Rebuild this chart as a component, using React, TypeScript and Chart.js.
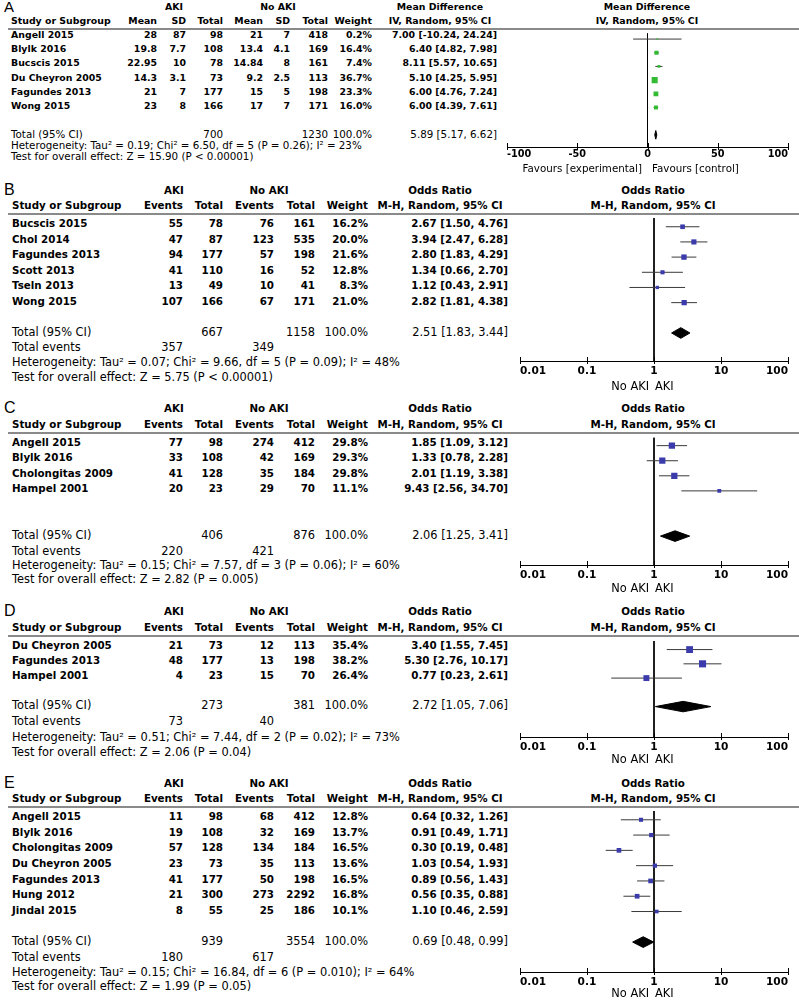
import React, { useEffect, useRef } from "react";
import { Chart, registerables } from "chart.js";

Chart.register(...registerables);

const FONT = '"DejaVu Sans", Verdana, sans-serif';
const LETTER_FONT = '"Liberation Sans", Arial, sans-serif';
const W = 799;
const H = 1001;

// ---------------- Panel A: Mean Difference (IV, Random) ----------------
const aStudies = ["Angell 2015", "Blylk 2016", "Bucscis 2015", "Du Cheyron 2005", "Fagundes 2013", "Wong 2015"];
const aAkiMean = ["28", "19.8", "22.95", "14.3", "21", "23"];
const aAkiSD = ["87", "7.7", "10", "3.1", "7", "8"];
const aAkiTotal = [98, 108, 78, 73, 177, 166];
const aNoMean = ["21", "13.4", "14.84", "9.2", "15", "17"];
const aNoSD = ["7", "4.1", "8", "2.5", "5", "7"];
const aNoTotal = [418, 169, 161, 113, 198, 171];
const aWeight = [0.2, 16.4, 7.4, 36.7, 23.3, 16.0];
const aEst = [7.0, 6.4, 8.11, 5.1, 6.0, 6.0];
const aLo = [-10.24, 4.82, 5.57, 4.25, 4.76, 4.39];
const aHi = [24.24, 7.98, 10.65, 5.95, 7.24, 7.61];
const aPooled = [5.89, 5.17, 6.62];
const aTotals = [700, 1230];
const aHet = "Heterogeneity: Tau² = 0.19; Chi² = 6.50, df = 5 (P = 0.26); I² = 23%";
const aTest = "Test for overall effect: Z = 15.90 (P < 0.00001)";

// ---------------- Panel B ----------------
const bStudies = ["Bucscis 2015", "Chol 2014", "Fagundes 2013", "Scott 2013", "Tseln 2013", "Wong 2015"];
const bAkiEvents = [55, 47, 94, 41, 13, 107];
const bAkiTotal = [78, 87, 177, 110, 49, 166];
const bNoEvents = [76, 123, 57, 16, 10, 67];
const bNoTotal = [161, 535, 198, 52, 41, 171];
const bWeight = [16.2, 20.0, 21.6, 12.8, 8.3, 21.0];
const bOR = [2.67, 3.94, 2.8, 1.34, 1.12, 2.82];
const bLo = [1.5, 2.47, 1.83, 0.66, 0.43, 1.81];
const bHi = [4.76, 6.28, 4.29, 2.7, 2.91, 4.38];
const bPooled = [2.51, 1.83, 3.44];
const bTotals = [667, 1158];
const bEvents = [357, 349];
const bHet = "Heterogeneity: Tau² = 0.07; Chi² = 9.66, df = 5 (P = 0.09); I² = 48%";
const bTest = "Test for overall effect: Z = 5.75 (P < 0.00001)";

// ---------------- Panel C ----------------
const cStudies = ["Angell 2015", "Blylk 2016", "Cholongitas 2009", "Hampel 2001"];
const cAkiEvents = [77, 33, 41, 20];
const cAkiTotal = [98, 108, 128, 23];
const cNoEvents = [274, 42, 35, 29];
const cNoTotal = [412, 169, 184, 70];
const cWeight = [29.8, 29.3, 29.8, 11.1];
const cOR = [1.85, 1.33, 2.01, 9.43];
const cLo = [1.09, 0.78, 1.19, 2.56];
const cHi = [3.12, 2.28, 3.38, 34.7];
const cPooled = [2.06, 1.25, 3.41];
const cTotals = [406, 876];
const cEvents = [220, 421];
const cHet = "Heterogeneity: Tau² = 0.15; Chi² = 7.57, df = 3 (P = 0.06); I² = 60%";
const cTest = "Test for overall effect: Z = 2.82 (P = 0.005)";

// ---------------- Panel D ----------------
const dStudies = ["Du Cheyron 2005", "Fagundes 2013", "Hampel 2001"];
const dAkiEvents = [21, 48, 4];
const dAkiTotal = [73, 177, 23];
const dNoEvents = [12, 13, 15];
const dNoTotal = [113, 198, 70];
const dWeight = [35.4, 38.2, 26.4];
const dOR = [3.4, 5.3, 0.77];
const dLo = [1.55, 2.76, 0.23];
const dHi = [7.45, 10.17, 2.61];
const dPooled = [2.72, 1.05, 7.06];
const dTotals = [273, 381];
const dEvents = [73, 40];
const dHet = "Heterogeneity: Tau² = 0.51; Chi² = 7.44, df = 2 (P = 0.02); I² = 73%";
const dTest = "Test for overall effect: Z = 2.06 (P = 0.04)";

// ---------------- Panel E ----------------
const eStudies = ["Angell 2015", "Blylk 2016", "Cholongitas 2009", "Du Cheyron 2005", "Fagundes 2013", "Hung 2012", "Jindal 2015"];
const eAkiEvents = [11, 19, 57, 23, 41, 21, 8];
const eAkiTotal = [98, 108, 128, 73, 177, 300, 55];
const eNoEvents = [68, 32, 134, 35, 50, 273, 25];
const eNoTotal = [412, 169, 184, 113, 198, 2292, 186];
const eWeight = [12.8, 13.7, 16.5, 13.6, 16.5, 16.8, 10.1];
const eOR = [0.64, 0.91, 0.3, 1.03, 0.89, 0.56, 1.1];
const eLo = [0.32, 0.49, 0.19, 0.54, 0.56, 0.35, 0.46];
const eHi = [1.26, 1.71, 0.48, 1.93, 1.43, 0.88, 2.59];
const ePooled = [0.69, 0.48, 0.99];
const eTotals = [939, 3554];
const eEvents = [180, 617];
const eHet = "Heterogeneity: Tau² = 0.15; Chi² = 16.84, df = 6 (P = 0.010); I² = 64%";
const eTest = "Test for overall effect: Z = 1.99 (P = 0.05)";

// ---------------- axis ticks ----------------
const mdTicks = [-100, -50, 0, 50, 100];
const mdTickLabels = ["-100", "-50", "0", "50", "100"];
const orTicks = [0.01, 0.1, 1, 10, 100];
const orTickLabels = ["0.01", "0.1", "1", "10", "100"];

const pct = (w: number) => `${w.toFixed(1)}%`;
const ci = (e: number, l: number, h: number) => `${e.toFixed(2)} [${l.toFixed(2)}, ${h.toFixed(2)}]`;

type Panel = {
  letter: string;
  studies: string[];
  cols: string[][];
  colHeads: string[];
  weight: number[];
  est: number[];
  lo: number[];
  hi: number[];
  pooled: number[];
  totalRow: (string | null)[];
  eventsRow: (string | null)[] | null;
  het: string;
  test: string;
  effTitle: string;
  effSub: string;
  axisLeft: string;
  axisRight: string;
  ticks: number[];
  tickLabels: string[];
  log: boolean;
  nullValue: number;
  color: string;
};

const panelA: Panel = {
  letter: "A",
  studies: aStudies,
  cols: [aAkiMean, aAkiSD, aAkiTotal.map(String), aNoMean, aNoSD, aNoTotal.map(String), aWeight.map(pct)],
  colHeads: ["Mean", "SD", "Total", "Mean", "SD", "Total", "Weight"],
  weight: aWeight,
  est: aEst,
  lo: aLo,
  hi: aHi,
  pooled: aPooled,
  totalRow: [null, null, String(aTotals[0]), null, null, String(aTotals[1]), "100.0%"],
  eventsRow: null,
  het: aHet,
  test: aTest,
  effTitle: "Mean Difference",
  effSub: "IV, Random, 95% CI",
  axisLeft: "Favours [experimental]",
  axisRight: "Favours [control]",
  ticks: mdTicks,
  tickLabels: mdTickLabels,
  log: false,
  nullValue: 0,
  color: "#33bb33",
};

function orPanel(
  letter: string, studies: string[], ae: number[], at: number[], ne: number[], nt: number[], w: number[],
  est: number[], lo: number[], hi: number[], pooled: number[], totals: number[], events: number[], het: string, test: string
): Panel {
  return {
    letter,
    studies,
    cols: [ae.map(String), at.map(String), ne.map(String), nt.map(String), w.map(pct)],
    colHeads: ["Events", "Total", "Events", "Total", "Weight"],
    weight: w,
    est,
    lo,
    hi,
    pooled,
    totalRow: [null, String(totals[0]), null, String(totals[1]), "100.0%"],
    eventsRow: [String(events[0]), null, String(events[1]), null, null],
    het,
    test,
    effTitle: "Odds Ratio",
    effSub: "M-H, Random, 95% CI",
    axisLeft: "No AKI",
    axisRight: "AKI",
    ticks: orTicks,
    tickLabels: orTickLabels,
    log: true,
    nullValue: 1,
    color: "#3b3bab",
  };
}

const panelB = orPanel("B", bStudies, bAkiEvents, bAkiTotal, bNoEvents, bNoTotal, bWeight, bOR, bLo, bHi, bPooled, bTotals, bEvents, bHet, bTest);
const panelC = orPanel("C", cStudies, cAkiEvents, cAkiTotal, cNoEvents, cNoTotal, cWeight, cOR, cLo, cHi, cPooled, cTotals, cEvents, cHet, cTest);
const panelD = orPanel("D", dStudies, dAkiEvents, dAkiTotal, dNoEvents, dNoTotal, dWeight, dOR, dLo, dHi, dPooled, dTotals, dEvents, dHet, dTest);
const panelE = orPanel("E", eStudies, eAkiEvents, eAkiTotal, eNoEvents, eNoTotal, eWeight, eOR, eLo, eHi, ePooled, eTotals, eEvents, eHet, eTest);

// ---------------- layout (positions & sizes only) ----------------
type Layout = {
  studyX: number; colR: number[]; effR: number; effC: number; plotC: number; akiC: number; noAkiC: number;
  plotL: number; plotR: number; bold: number; reg: number; letterSize: number;
  titleY: number; subY: number; lineY: number; rowY0: number; rowStep: number; totalIdx: number;
  eventsY: number; hetY: number; testY: number; axisY: number; labY: number; bottom: number;
  leftLabR: number; rightLabL: number; sqK: number; sqMin: number; diamondHalf: number; tickPad: number;
};

const layoutA: Layout = {
  studyX: 11, colR: [157, 186, 223, 263, 290, 328, 372], effR: 497, effC: 440, plotC: 647, akiC: 174, noAkiC: 278,
  plotL: 507, plotR: 788, bold: 9.4, reg: 10.3, letterSize: 15,
  titleY: 7, subY: 21, lineY: 29, rowY0: 35, rowStep: 14.2, totalIdx: 7,
  eventsY: 0, hetY: 145, testY: 156, axisY: 147, labY: 168, bottom: 178,
  leftLabR: 642, rightLabL: 652, sqK: 1.0, sqMin: 1.5, diamondHalf: 4.5, tickPad: 2,
};

const orBase = {
  studyX: 12, colR: [183, 223, 274, 315, 368], effR: 508, effC: 440, plotC: 653, akiC: 174, noAkiC: 269,
  plotL: 520, plotR: 788, bold: 10.3, reg: 11.4, letterSize: 16,
  leftLabR: 649, rightLabL: 655, sqK: 1.15, sqMin: 2, diamondHalf: 5.5, tickPad: 4,
};

const layoutB: Layout = { ...orBase, titleY: 190, subY: 205, lineY: 214, rowY0: 223, rowStep: 15.6, totalIdx: 7, eventsY: 347, hetY: 362, testY: 377, axisY: 361, labY: 386, bottom: 396 };
const layoutC: Layout = { ...orBase, titleY: 408, subY: 424, lineY: 433, rowY0: 441.5, rowStep: 15.6, totalIdx: 6, eventsY: 551, hetY: 565, testY: 579, axisY: 565, labY: 588, bottom: 598 };
const layoutD: Layout = { ...orBase, titleY: 611, subY: 627, lineY: 636, rowY0: 645, rowStep: 15, totalIdx: 4, eventsY: 721, hetY: 737, testY: 752, axisY: 737, labY: 759, bottom: 769 };
const layoutE: Layout = { ...orBase, titleY: 783, subY: 798, lineY: 807, rowY0: 816, rowStep: 15.67, totalIdx: 8, eventsY: 957, hetY: 972, testY: 986, axisY: 972, labY: 993, bottom: 1001 };

function Txt(props: { x: number; y: number; t: string; a?: "left" | "right" | "center"; b?: boolean; s: number; f?: string }) {
  const { x, y, t, a = "left", b = false, s, f = FONT } = props;
  const lh = 16;
  const style: any = {
    position: "absolute",
    top: y - lh / 2,
    height: lh,
    lineHeight: `${lh}px`,
    fontSize: s,
    fontWeight: b ? 700 : 400,
    fontFamily: f,
    whiteSpace: "nowrap",
    color: "#000",
  };
  if (a === "left") style.left = x;
  else if (a === "right") style.right = W - x;
  else {
    style.left = x - 150;
    style.width = 300;
    style.textAlign = "center";
  }
  return <div style={style}>{t}</div>;
}

const tickMarks = {
  id: "tickMarks",
  afterDraw(chart: any) {
    const s = chart.scales.x;
    const ctx = chart.ctx;
    const y = Math.round(chart.chartArea.bottom);
    ctx.save();
    ctx.strokeStyle = "#000";
    ctx.lineWidth = 1;
    s.ticks.forEach((_: any, i: number) => {
      const x = Math.round(s.getPixelForTick(i)) + 0.5;
      ctx.beginPath();
      ctx.moveTo(x, y - 4);
      ctx.lineTo(x, y + 3);
      ctx.stroke();
    });
    ctx.restore();
  },
};

const CX = 500;

function ForestChart({ p, L }: { p: Panel; L: Layout }) {
  const ref = useRef<HTMLCanvasElement>(null);
  const top = L.lineY;
  const cw = W - CX;
  const ch = L.bottom - top;
  useEffect(() => {
    const canvas = ref.current;
    if (!canvas) return;
    const yMin = -(L.rowY0 - L.lineY) / L.rowStep;
    const yMax = (L.axisY - L.rowY0) / L.rowStep;
    const datasets: any[] = [];
    datasets.push({
      type: "scatter",
      data: p.est.map((e, i) => ({ x: e, y: i })),
      pointStyle: "rect",
      pointRadius: (c: any) => Math.max(L.sqMin, L.sqK * Math.sqrt(p.weight[c.dataIndex])) / Math.SQRT2,
      backgroundColor: p.color,
      borderWidth: 0,
      order: 0,
    });
    const h = L.diamondHalf / L.rowStep;
    const t = L.totalIdx;
    const [pe, pl, ph] = p.pooled;
    datasets.push({
      type: "line",
      data: [{ x: pl, y: t }, { x: pe, y: t - h }, { x: ph, y: t }, { x: pe, y: t + h }, { x: pl, y: t }],
      fill: "shape",
      backgroundColor: "#000",
      borderColor: "#000",
      borderWidth: 1,
      pointRadius: 0,
      tension: 0,
      order: 0,
    });
    p.studies.forEach((_, i) => {
      datasets.push({
        type: "line",
        data: [{ x: p.lo[i], y: i }, { x: p.hi[i], y: i }],
        borderColor: "#3a3a3a",
        borderWidth: 1,
        pointRadius: 0,
        order: 1,
      });
    });
    datasets.push({
      type: "line",
      data: [{ x: p.nullValue, y: yMin }, { x: p.nullValue, y: yMax }],
      borderColor: "#000",
      borderWidth: 1,
      pointRadius: 0,
      order: 2,
    });
    const chart = new Chart(canvas, {
      type: "scatter",
      data: { datasets },
      options: {
        animation: false,
        responsive: false,
        devicePixelRatio: 1,
        events: [],
        layout: { padding: { left: L.plotL - CX, right: W - L.plotR, top: 0, bottom: 0 } },
        plugins: { legend: { display: false }, tooltip: { enabled: false } },
        scales: {
          x: {
            type: p.log ? "logarithmic" : "linear",
            position: "bottom",
            min: p.ticks[0],
            max: p.ticks[p.ticks.length - 1],
            afterBuildTicks: (s: any) => {
              s.ticks = p.ticks.map((v) => ({ value: v }));
            },
            afterFit: (s: any) => {
              s.height = L.bottom - L.axisY;
            },
            ticks: {
              autoSkip: false,
              maxRotation: 0,
              align: "inner",
              color: "#000",
              padding: L.tickPad,
              font: { family: FONT, weight: "bold", size: L.bold + 0.3 },
              callback: (_v: any, i: number) => p.tickLabels[i],
            },
            grid: { drawOnChartArea: false, drawTicks: false },
            border: { display: true, color: "#000", width: 1 },
          },
          y: { type: "linear", display: false, reverse: true, min: yMin, max: yMax },
        },
      } as any,
      plugins: [tickMarks],
    });
    return () => chart.destroy();
  }, []);
  return (
    <canvas
      ref={ref}
      width={cw}
      height={ch}
      style={{ position: "absolute", left: CX, top, width: cw, height: ch }}
    />
  );
}

function PanelView({ p, L }: { p: Panel; L: Layout }) {
  const els: any[] = [];
  let k = 0;
  const add = (el: any) => els.push(React.cloneElement(el, { key: k++ }));
  // title row
  add(<Txt x={4} y={L.titleY} t={p.letter} s={L.letterSize} f={LETTER_FONT} />);
  add(<Txt x={L.akiC} y={L.titleY} t="AKI" a="center" b s={L.bold} />);
  add(<Txt x={L.noAkiC} y={L.titleY} t="No AKI" a="center" b s={L.bold} />);
  add(<Txt x={L.effC} y={L.titleY} t={p.effTitle} a="center" b s={L.bold} />);
  add(<Txt x={L.plotC} y={L.titleY} t={p.effTitle} a="center" b s={L.bold} />);
  // sub header
  add(<Txt x={L.studyX} y={L.subY} t="Study or Subgroup" b s={L.bold} />);
  p.colHeads.forEach((hd, j) => add(<Txt x={L.colR[j]} y={L.subY} t={hd} a="right" b s={L.bold} />));
  add(<Txt x={L.effC} y={L.subY} t={p.effSub} a="center" b s={L.bold} />);
  add(<Txt x={L.plotC} y={L.subY} t={p.effSub} a="center" b s={L.bold} />);
  add(<div style={{ position: "absolute", left: 8, top: L.lineY - 1, width: W - 8, height: 2, background: "#8a8a8a" }} />);
  // study rows
  p.studies.forEach((s, i) => {
    const y = L.rowY0 + i * L.rowStep;
    add(<Txt x={L.studyX} y={y} t={s} b s={L.bold} />);
    p.cols.forEach((c, j) => add(<Txt x={L.colR[j]} y={y} t={c[i]} a="right" b s={L.bold} />));
    add(<Txt x={L.effR} y={y} t={ci(p.est[i], p.lo[i], p.hi[i])} a="right" b s={L.bold} />);
  });
  // totals
  const ty = L.rowY0 + L.totalIdx * L.rowStep;
  add(<Txt x={L.studyX} y={ty} t="Total (95% CI)" s={L.reg} />);
  p.totalRow.forEach((v, j) => {
    if (v !== null) add(<Txt x={L.colR[j]} y={ty} t={v} a="right" s={L.reg} />);
  });
  add(<Txt x={L.effR} y={ty} t={ci(p.pooled[0], p.pooled[1], p.pooled[2])} a="right" s={L.reg} />);
  if (p.eventsRow) {
    add(<Txt x={L.studyX} y={L.eventsY} t="Total events" s={L.reg} />);
    p.eventsRow.forEach((v, j) => {
      if (v !== null) add(<Txt x={L.colR[j]} y={L.eventsY} t={v} a="right" s={L.reg} />);
    });
  }
  add(<Txt x={L.studyX} y={L.hetY} t={p.het} s={L.reg} />);
  add(<Txt x={L.studyX} y={L.testY} t={p.test} s={L.reg} />);
  return (
    <>
      {els}
      <ForestChart p={p} L={L} />
      <Txt x={L.leftLabR} y={L.labY} t={p.axisLeft} a="right" s={L.reg} />
      <Txt x={L.rightLabL} y={L.labY} t={p.axisRight} s={L.reg} />
    </>
  );
}

export default function App() {
  return (
    <div style={{ position: "absolute", left: 0, top: 0, width: W, height: H, background: "#fff", overflow: "hidden" }}>
      <PanelView p={panelA} L={layoutA} />
      <PanelView p={panelB} L={layoutB} />
      <PanelView p={panelC} L={layoutC} />
      <PanelView p={panelD} L={layoutD} />
      <PanelView p={panelE} L={layoutE} />
    </div>
  );
}
